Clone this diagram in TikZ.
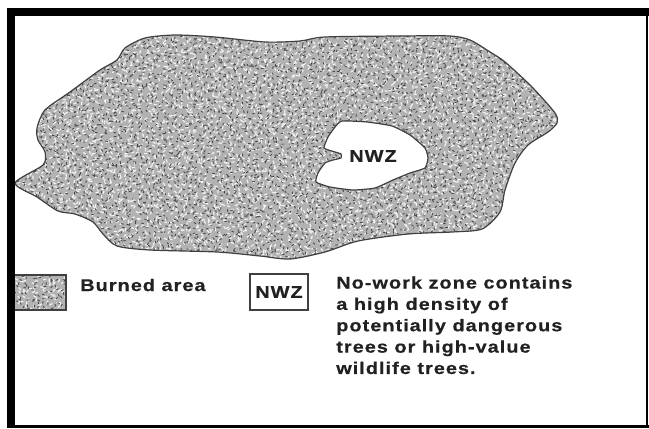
\documentclass[tikz,border=0pt]{standalone}
\usepackage{fontspec}
\setmainfont{Liberation Sans}[FakeStretch=1.18,LetterSpace=6,FakeBold=0.6]
\usepackage{tikz}
\usetikzlibrary{calc,positioning}

\definecolor{stipbase}{gray}{0.7}
\definecolor{stipdark}{gray}{0.28}
\definecolor{stiplight}{gray}{0.95}
\definecolor{edgeline}{gray}{0.25}
\definecolor{labelgray}{gray}{0.13}

\tikzset{
	labeltext/.style={font=\bfseries\fontsize{12pt}{15.2pt}\selectfont,text=labelgray,inner sep=0pt},
	legendbox/.style={draw=edgeline,line width=0.5mm,minimum width=14.5mm,minimum height=9mm,inner sep=0pt},
}

% jittered dark and white flecks over one rectangle, in pixels
\newcommand{\stipplearea}[6]{
	\foreach \xcell in {#1,#2,...,#3}{
		\foreach \ycell in {#4,#5,...,#6}{
			\pgfmathsetmacro{\xfleck}{\xcell+5*rnd}
			\pgfmathsetmacro{\yfleck}{\ycell+5*rnd}
			\pgfmathsetmacro{\afleck}{180*rnd}
			\draw[stiplight,line width=0.3mm,line cap=round] (\xfleck,\yfleck) -- ++(\afleck:2.6);
			\pgfmathsetmacro{\xdark}{\xcell+5*rnd}
			\pgfmathsetmacro{\ydark}{\ycell+5*rnd}
			\pgfmathsetmacro{\adark}{180*rnd}
			\draw[stipdark,line width=0.22mm,line cap=round] (\xdark,\ydark) -- ++(\adark:2);
		}
	}
}

\begin{document}
\begin{tikzpicture}[x=0.25mm,y=-0.25mm]
				\useasboundingbox (0,0) rectangle (649,428);
				\pgfmathsetseed{4711}

				% burned area
				\begin{scope}
					\clip plot[smooth cycle,tension=0.45] coordinates {(15,183) (43,165) (45,152) (38,140) (37,128) (45,110) (70,92) (100,70) (117,60) (125,48) (145,38) (175,35) (215,37) (265,42) (300,41) (325,37) (400,36) (450,36) (470,40) (490,52) (505,62) (532,87) (555,113) (557,123) (548,132) (528,145) (515,163) (505,190) (500,212) (482,229) (452,232) (408,234) (358,241) (325,252) (290,259) (260,256) (217,252) (150,250) (117,246) (103,234) (93,222) (75,214) (58,211) (37,197)};
					\fill[stipbase] (0,0) rectangle (649,300);
					\stipplearea{10}{15}{560}{30}{35}{265}
				\end{scope}
				\draw[edgeline,line width=0.3mm] plot[smooth cycle,tension=0.45] coordinates {(15,183) (43,165) (45,152) (38,140) (37,128) (45,110) (70,92) (100,70) (117,60) (125,48) (145,38) (175,35) (215,37) (265,42) (300,41) (325,37) (400,36) (450,36) (470,40) (490,52) (505,62) (532,87) (555,113) (557,123) (548,132) (528,145) (515,163) (505,190) (500,212) (482,229) (452,232) (408,234) (358,241) (325,252) (290,259) (260,256) (217,252) (150,250) (117,246) (103,234) (93,222) (75,214) (58,211) (37,197)};

				% no-work zone
				\draw[edgeline,fill=white,line width=0.3mm] plot[smooth cycle,tension=0.3] coordinates {(342,121) (367,122) (392,126) (410,135) (425,148) (428,158) (425,168) (410,173) (393,180) (375,188) (353,190) (330,187) (316,182) (318,173) (325,163) (333,160) (341,158) (341,154) (335,152) (324,148) (328,137) (335,127)};
				\node[labeltext] (zonelabel) at (373,156) {NWZ};

				% legend
				\begin{scope}
					\clip (15,274) rectangle (66,310);
					\fill[stipbase] (15,274) rectangle (66,310);
					\stipplearea{10}{15}{70}{270}{275}{310}
				\end{scope}
				\draw[edgeline,line width=0.5mm] (15,274.5) -- (65.5,274.5) -- (65.5,309.5) -- (15,309.5);
				\node[labeltext,anchor=west] (burnedlabel) at (80,285) {Burned area};
				\node[legendbox] (zonebox) at (279,292) {};
				\node[labeltext] (zonekey) at (zonebox) {NWZ};
				\node[labeltext,anchor=north west,align=left] (zonetext) at (336,276) {No-work zone contains\\a high density of\\potentially dangerous\\trees or high-value\\wildlife trees.};

				% frame
				\fill[black] (7,8) rectangle (649,16);
				\fill[black] (7,8) rectangle (15,428);
				\fill[black] (7,425) rectangle (649,428);
				\fill[black] (646,8) rectangle (648,428);
\end{tikzpicture}
\end{document}
